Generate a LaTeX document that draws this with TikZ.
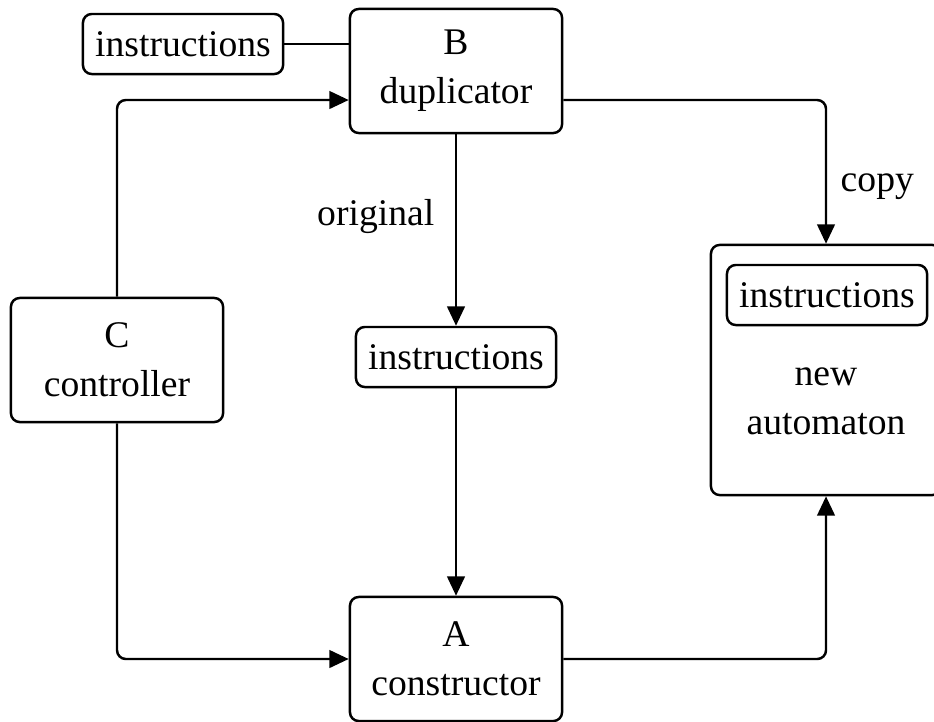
\documentclass[tikz,border=0pt]{standalone}
\usepackage{fontspec}
\setmainfont{Liberation Serif}
\usetikzlibrary{arrows.meta}

\begin{document}
\begin{tikzpicture}[x=0.01cm, y=-0.01cm, font=\fontsize{10.7pt}{14pt}\selectfont,
		main/.style = {draw, line width=0.7pt, rounded corners=2.5pt, align=center},
		unit/.style = {main, minimum width=2.12cm, minimum height=1.24cm},
		instr/.style = {main, minimum width=2cm, minimum height=0.6cm, inner sep=0pt},
		line/.style = {line width=0.7pt, rounded corners=2.5pt},
		>={Triangle[length=5.5pt, width=5pt]}]
			\useasboundingbox (0,0) rectangle (934,721);
			\node[unit] (B) at (456,71) {B\\duplicator};
			\node[unit] (C) at (117,360) {C\\controller};
			\node[unit] (A) at (456,659) {A\\constructor};
			\node[instr] (i1) at (183,44) {instructions};
			\node[instr] (i2) at (456,357) {instructions};
			\node[main, minimum width=2.3cm, minimum height=2.5cm] (N) at (826,370) {};
			\node[instr] (i3) at (827,295) {instructions};
			\node[align=center] (new) at (826,401) {new\\automaton};
			\draw[line] (i1) -- (i1 -| B.west);
			\draw[line, ->] (C) |- ([yshift=-0.29cm]B.west);
			\draw[line, ->] (C) |- (A);
			\draw[line, ->] (B) -- node[left=2.5pt, pos=0.43] {original} (i2);
			\draw[line, ->] (i2) -- (A);
			\draw[line, ->] ([yshift=-0.29cm]B.east) -| node[right=0.5pt, pos=0.8] {copy} (N);
			\draw[line, ->] (A) -| (N);
		\end{tikzpicture}
\end{document}
